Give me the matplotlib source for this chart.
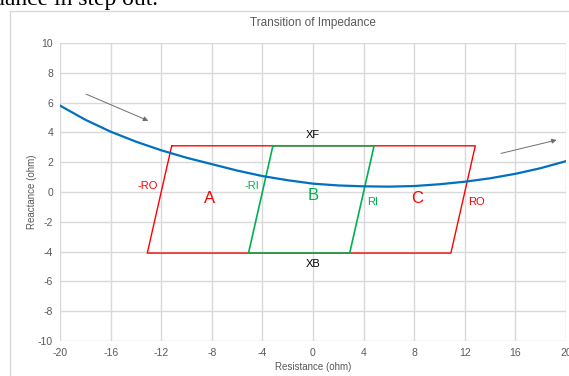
import matplotlib
matplotlib.use("Agg")
import matplotlib.pyplot as plt
from matplotlib.patches import Rectangle

plt.rcParams['font.family'] = ['Liberation Sans', 'DejaVu Sans']
plt.rcParams['axes.unicode_minus'] = False

# Impedance locus (blue curve)
locus_r = [-20, -18, -16, -14, -12, -10, -8, -6, -4, -2, 0, 2, 4, 6, 8, 10, 12, 14, 16, 18, 20]
locus_x = [5.8, 4.85, 4.05, 3.38, 2.8, 2.3, 1.87, 1.44, 1.07, 0.79, 0.56, 0.44, 0.38, 0.36, 0.4, 0.52, 0.69, 0.92, 1.22, 1.6, 2.07]

# Outer (red) and inner (green) blinder zones
outer_r = [-11.17, 12.83, 10.9, -13.1, -11.17]
outer_x = [3.1, 3.1, -4.1, -4.1, 3.1]
inner_r = [-3.17, 4.83, 2.9, -5.1, -3.17]
inner_x = [3.1, 3.1, -4.1, -4.1, 3.1]

# Annotations
red_labels = [("-RO", -13.1, 0.4, 8), ("A", -8.2, -0.45, 12), ("C", 8.2, -0.45, 12), ("RO", 12.9, -0.65, 8)]
green_labels = [("-RI", -4.8, 0.4, 8), ("B", 0.0, -0.25, 12), ("RI", 4.7, -0.7, 8)]
black_labels = [("XF", 0.0, 3.8), ("XB", 0.0, -4.8)]
arrows = [((-17.94, 6.57), (-13.02, 4.78)), ((14.86, 2.59), (19.26, 3.49))]

x_ticks = [-20, -16, -12, -8, -4, 0, 4, 8, 12, 16, 20]
y_ticks = [-10, -8, -6, -4, -2, 0, 2, 4, 6, 8, 10]

fig = plt.figure(figsize=(5.69, 3.76), dpi=100)
fig.patch.set_facecolor('white')

# chart frame
fig.patches.append(Rectangle((10/569, -0.1), 1.2, 1.1 - 10.5/376, transform=fig.transFigure,
                             fill=False, edgecolor='#d9d9d9', linewidth=1.0, zorder=0))
# partial document text above chart
fig.text(-0.012, 1 - 4.5/376, "dance in step out.", family='Liberation Serif', fontsize=17,
         ha='left', va='baseline', color='black')

ax = fig.add_axes([60/569, 1 - 341/376, 506/569, 298/376])
ax.set_xlim(-20, 20)
ax.set_ylim(-10, 10)
ax.set_xticks(x_ticks)
ax.set_yticks(y_ticks)
ax.grid(True, color='#d9d9d9', linewidth=1.0)
ax.set_axisbelow(True)
for s in ax.spines.values():
    s.set_visible(False)
ax.tick_params(length=0, labelsize=7.5, colors='#595959', pad=5)

ax.plot(outer_r, outer_x, color='#ff0000', linewidth=1.0, zorder=3)
ax.plot(inner_r, inner_x, color='#00b050', linewidth=1.2, zorder=3.5)
ax.plot(locus_r, locus_x, color='#0070c0', linewidth=1.6, zorder=4)

for t, x, y, fs in red_labels:
    ax.text(x, y, t, color='#ff0000', fontsize=fs, ha='center', va='center', zorder=5)
for t, x, y, fs in green_labels:
    ax.text(x, y, t, color='#00b050', fontsize=fs, ha='center', va='center', zorder=5)
for t, x, y in black_labels:
    ax.text(x, y, t, color='black', fontsize=8, ha='center', va='center', zorder=5)
for (x0, y0), (x1, y1) in arrows:
    ax.annotate("", xy=(x1, y1), xytext=(x0, y0),
                arrowprops=dict(arrowstyle='-|>', color='#6e6e6e', lw=0.7,
                                mutation_scale=7, shrinkA=0, shrinkB=0), zorder=5)

ax.set_title("Transition of Impedance", fontsize=8.5, color='#595959', pad=12)
ax.set_xlabel("Resistance (ohm)", fontsize=7, color='#595959', labelpad=3)
ax.set_ylabel("Reactance (ohm)", fontsize=7, color='#595959', labelpad=1)

fig.savefig("out.png", dpi=100)
